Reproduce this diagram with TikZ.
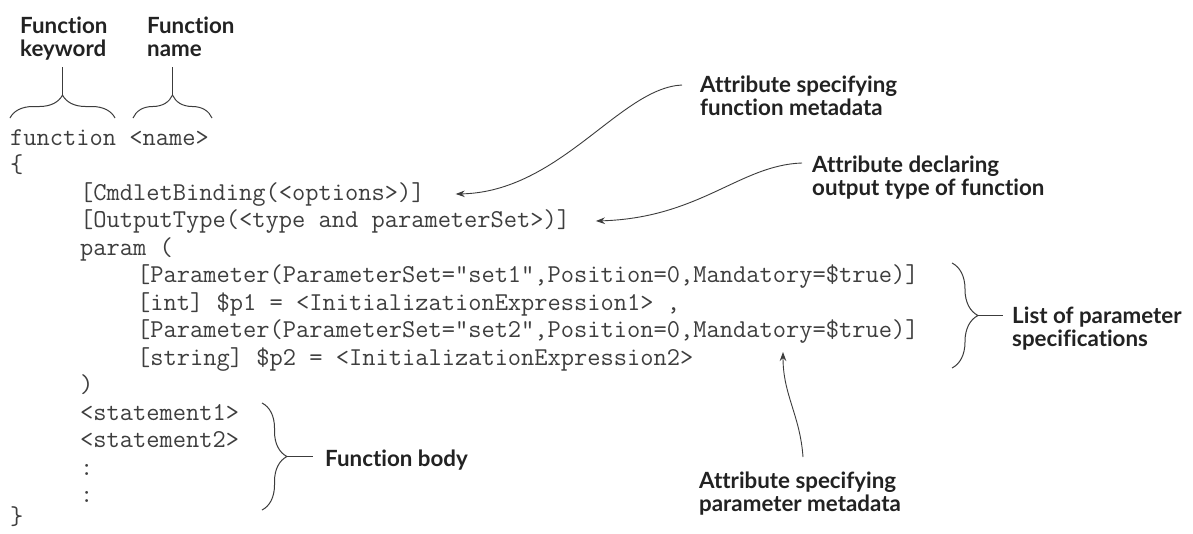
\documentclass[tikz,border=0pt]{standalone}
\usepackage{fontspec}
\newfontfamily\labfont[Ligatures=NoCommon]{Lato}
\usetikzlibrary{arrows.meta,decorations.pathreplacing,calc}
\definecolor{codegray}{HTML}{3E3E3E}
\definecolor{labink}{HTML}{222222}
\definecolor{lineink}{HTML}{3C3C3C}
\newlength\mylabwidth
\AtBeginDocument{%
  \settowidth{\mylabwidth}{\labfont\bfseries\fontsize{10}{12}\selectfont Attribute specifying}%
  \pgfmathsetmacro\labsz{10*197/\mylabwidth}%
  \xdef\labsz{\labsz}%
}
\begin{document}
\begin{tikzpicture}[x=1pt,y=-1pt]
\tikzset{
  codeline/.style={font=\ttfamily\fontsize{25.714}{27}\selectfont, text=codegray, anchor=base west, inner sep=0pt},
  lab/.style={font=\labfont\bfseries\fontsize{\labsz}{23.5}\selectfont, text=labink, anchor=base west, inner sep=0pt},
  conn/.style={draw=lineink, line width=0.9pt, -{Stealth[length=9pt,width=6.5pt]}},
  plainline/.style={draw=lineink, line width=0.9pt},
  curly/.style={draw=lineink, line width=1pt, decorate, decoration={brace, amplitude=#1}}
}
\useasboundingbox[fill=white] (0,0) rectangle (1193,533);

% code
\node[codeline] (l0)  at (10,145)  {function <name>};
\node[codeline] (l1)  at (10,172.5) {\{};
\node[codeline] (cmd) at (80,200)  {[CmdletBinding(<options>)]};
\node[codeline] (out) at (80,227.5) {[OutputType(<type and parameterSet>)]};
\node[codeline] (l4)  at (80,255)  {param (};
\node[codeline] (p1)  at (137,282.5) {[Parameter(ParameterSet="set1",Position=0,Mandatory=\$true)]};
\node[codeline] (p2)  at (137,310) {[int] \$p1 = <InitializationExpression1> ,};
\node[codeline] (p3)  at (137,337.5) {[Parameter(ParameterSet="set2",Position=0,Mandatory=\$true)]};
\node[codeline] (p4)  at (137,365) {[string] \$p2 = <InitializationExpression2>};
\node[codeline] (l9)  at (80,392.5) {)};
\node[codeline] (s1)  at (80,420) {<statement1>};
\node[codeline] (s2)  at (80,447.5) {<statement2>};
\node[codeline] (s3)  at (80,475) {:};
\node[codeline] (s4)  at (80,502.5) {:};
\node[codeline] (l14) at (10,524.5) {\}};

% labels
\node[lab] (fk) at (20,33) {\vtop{\hbox{Function}\hbox{keyword}}};
\node[lab] (fn) at (147,33) {\vtop{\hbox{Function}\hbox{name}}};
\node[lab] (a1) at (700,92) {\vtop{\hbox{Attribute specifying}\hbox{function metadata}}};
\node[lab] (a2) at (812,172) {\vtop{\hbox{Attribute declaring}\hbox{output type of function}}};
\node[lab] (lst) at (1012,323) {\vtop{\hbox{List of parameter}\hbox{specifications}}};
\node[lab] (fb) at (325,466) {Function body};
\node[lab] (pm) at (699,488) {\vtop{\hbox{Attribute specifying}\hbox{parameter metadata}}};

% top braces
\draw[curly=23pt] (10,118) -- (115,118);
\draw[curly=23pt] (133,118) -- (212,118);
\coordinate (fkt) at (62.5,95);
\coordinate (fnt) at (172.5,95);
\draw[plainline] (fkt) -- ($(fk.base west)+(42.5,34)$);
\draw[plainline] (fnt) -- ($(fn.base west)+(25.5,34)$);

% right braces
\draw[curly=26pt] (952,263) -- (952,368);
\coordinate (lbt) at (978,315.5);
\draw[plainline] (lbt) -- ($(lst.base west)+(-9,-7.5)$);
\draw[curly=25pt] (262,403) -- (262,510);
\coordinate (fbt) at (287,456.5);
\draw[plainline] (fbt) -- ($(fb.base west)+(-12,-9.5)$);

% arrows
\coordinate (a1s) at ($(a1.base west)+(-18,-7)$);
\coordinate (t1) at ($(cmd.base east)+(31,-6)$);
\draw[conn] (a1s) .. controls (620,88) and (560,192) .. (t1);
\coordinate (a2s) at ($(a2.base west)+(-10,-9)$);
\coordinate (t2) at ($(out.base east)+(25.5,-6.5)$);
\draw[conn] (a2s) .. controls (740,165) and (700,218) .. (t2);
\coordinate (pms) at ($(pm.base west)+(104,-31)$);
\coordinate (t3) at (783,352);
\draw[conn] (pms) .. controls (800,415) and (783,395) .. (t3);
\end{tikzpicture}
\end{document}
